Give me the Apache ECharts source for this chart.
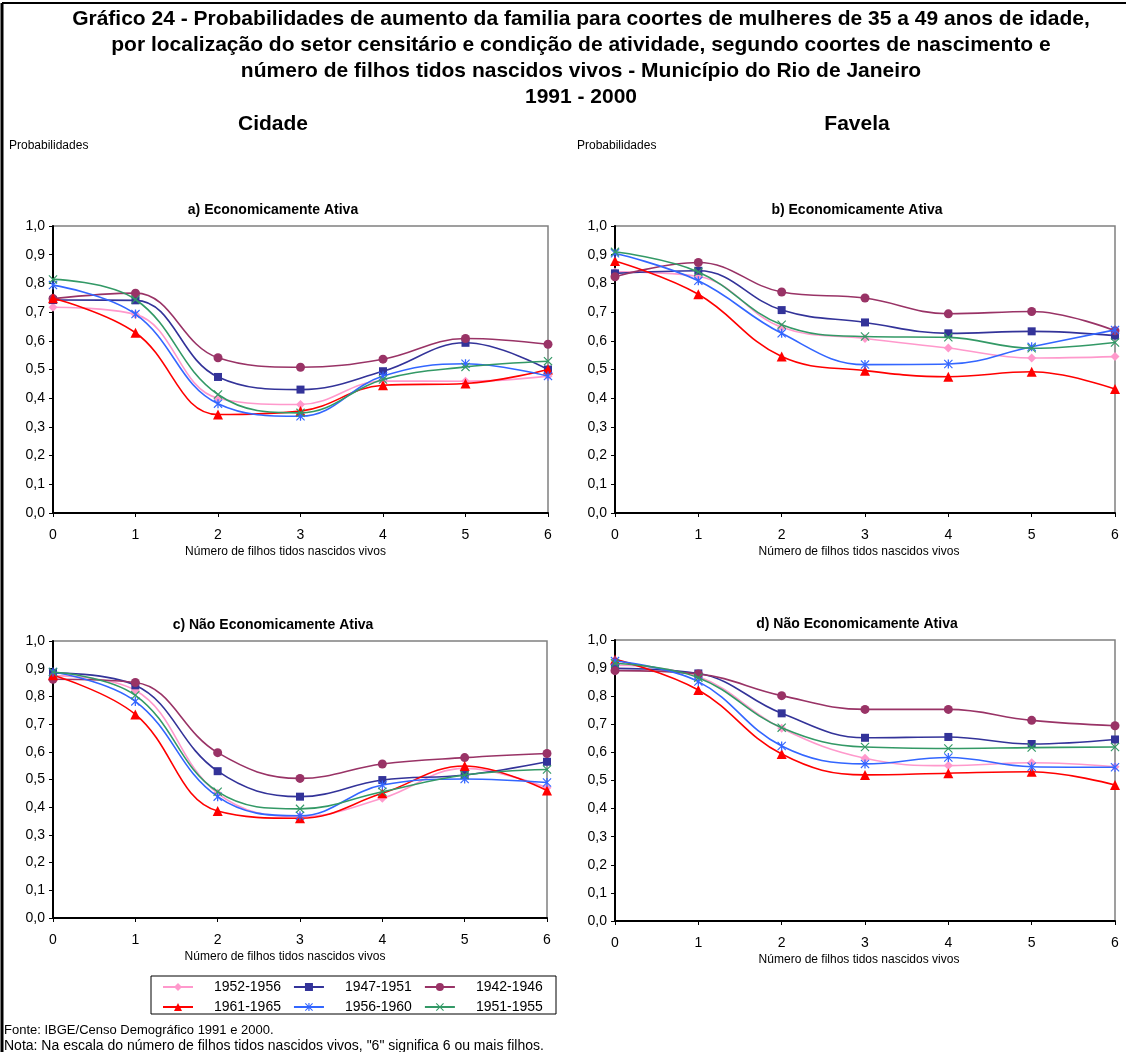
<!DOCTYPE html>
<html>
<head>
<meta charset="utf-8">
<script src="https://cdn.jsdelivr.net/npm/echarts@6/dist/echarts.min.js"></script>
<style>
  html, body { margin: 0; padding: 0; background: #fff; }
  #chart { width: 1126px; height: 1052px; }
</style>
</head>
<body>
<div id="chart"></div>
<script>
// categories (x axis) and cohorts (series)
const xCats = ['0', '1', '2', '3', '4', '5', '6'];
const cohorts = ['1952-1956', '1947-1951', '1942-1946', '1961-1965', '1956-1960', '1951-1955'];

// values per panel, rows in the cohort order above
const cidadeAtiva = [
    [0.717, 0.692, 0.400, 0.378, 0.460, 0.459, 0.477],
    [0.742, 0.741, 0.474, 0.430, 0.494, 0.593, 0.500],
    [0.747, 0.766, 0.541, 0.508, 0.536, 0.608, 0.588],
    [0.748, 0.628, 0.343, 0.355, 0.445, 0.451, 0.500],
    [0.794, 0.693, 0.381, 0.337, 0.477, 0.520, 0.477],
    [0.814, 0.744, 0.413, 0.349, 0.465, 0.509, 0.529]
];
const favelaAtiva = [
    [0.840, 0.824, 0.647, 0.608, 0.575, 0.540, 0.545],
    [0.835, 0.844, 0.707, 0.664, 0.626, 0.633, 0.618],
    [0.823, 0.873, 0.770, 0.749, 0.694, 0.702, 0.635],
    [0.878, 0.762, 0.545, 0.496, 0.475, 0.492, 0.432],
    [0.905, 0.809, 0.626, 0.517, 0.519, 0.579, 0.638],
    [0.910, 0.840, 0.656, 0.615, 0.612, 0.574, 0.594]
];
const cidadeNaoAtiva = [
    [0.875, 0.822, 0.450, 0.366, 0.432, 0.540, 0.470],
    [0.885, 0.840, 0.530, 0.438, 0.498, 0.516, 0.564],
    [0.862, 0.850, 0.597, 0.504, 0.556, 0.579, 0.594],
    [0.876, 0.735, 0.386, 0.360, 0.450, 0.549, 0.460],
    [0.888, 0.782, 0.438, 0.369, 0.480, 0.502, 0.489],
    [0.888, 0.804, 0.456, 0.394, 0.456, 0.516, 0.536]
];
const favelaNaoAtiva = [
    [0.910, 0.870, 0.686, 0.579, 0.553, 0.563, 0.549],
    [0.899, 0.881, 0.739, 0.652, 0.655, 0.630, 0.646],
    [0.891, 0.879, 0.802, 0.753, 0.753, 0.714, 0.695],
    [0.931, 0.822, 0.594, 0.520, 0.526, 0.531, 0.484],
    [0.925, 0.852, 0.623, 0.559, 0.582, 0.549, 0.547],
    [0.917, 0.866, 0.688, 0.619, 0.614, 0.617, 0.619]
];

const FONT = '"Liberation Sans", Arial, sans-serif';
const colors = ['#FF99CC', '#333399', '#993366', '#FF0000', '#3366FF', '#339966'];
// asterisk and x markers as filled thin bars
const starPath = 'path://M4.3,0H5.7V10H4.3Z M0,0.9L0.9,0L10,9.1L9.1,10Z M9.1,0L10,0.9L0.9,10L0,9.1Z';
const crossPath = 'path://M0,0.9L0.9,0L10,9.1L9.1,10Z M9.1,0L10,0.9L0.9,10L0,9.1Z';
const symbols = ['diamond', 'rect', 'circle', 'triangle', starPath, crossPath];
const symbolSizes = [9, 8, 9, 10, 9, 9];

// titleX / nameShift: Excel centres these on the whole chart area, not the plot
const panels = [
    {data: cidadeAtiva, left: 53, top: 226, width: 495, height: 287, title: 'a) Economicamente Ativa', titleX: 268, nameShift: 30},
    {data: favelaAtiva, left: 615, top: 226, width: 500, height: 287, title: 'b) Economicamente Ativa', titleX: 852, nameShift: 12},
    {data: cidadeNaoAtiva, left: 53, top: 641, width: 494, height: 277, title: 'c) Não Economicamente Ativa', titleX: 268, nameShift: 30},
    {data: favelaNaoAtiva, left: 615, top: 640, width: 500, height: 281, title: 'd) Não Economicamente Ativa', titleX: 852, nameShift: 12}
];

const grids = [], xAxes = [], yAxes = [], series = [];
const titles = [
    {
        text: 'Gráfico 24 - Probabilidades de aumento da familia para coortes de mulheres de 35 a 49 anos de idade,\n' +
              'por localização do setor censitário e condição de atividade, segundo coortes de nascimento e\n' +
              'número de filhos tidos nascidos vivos - Município do Rio de Janeiro\n1991 - 2000',
        left: 576, top: 1, textAlign: 'center',
        textStyle: {fontFamily: FONT, fontSize: 21, fontWeight: 'bold', lineHeight: 26, color: '#000'}
    },
    {text: 'Cidade', left: 268, top: 109, textAlign: 'center',
        textStyle: {fontFamily: FONT, fontSize: 21, fontWeight: 'bold', color: '#000'}},
    {text: 'Favela', left: 852, top: 109, textAlign: 'center',
        textStyle: {fontFamily: FONT, fontSize: 21, fontWeight: 'bold', color: '#000'}},
    {text: 'Probabilidades', left: 4, top: 135,
        textStyle: {fontFamily: FONT, fontSize: 12, fontWeight: 'normal', color: '#000'}},
    {text: 'Probabilidades', left: 572, top: 135,
        textStyle: {fontFamily: FONT, fontSize: 12, fontWeight: 'normal', color: '#000'}}
];

panels.forEach(function (p, i) {
    grids.push({left: p.left, top: p.top, width: p.width, height: p.height,
        show: true, borderColor: '#808080', borderWidth: 1.5, backgroundColor: 'transparent'});
    titles.push({text: p.title, left: p.titleX, top: p.top - 28, textAlign: 'center',
        textStyle: {fontFamily: FONT, fontSize: 14, fontWeight: 'bold', color: '#000'}});
    xAxes.push({
        type: 'category', gridIndex: i, data: xCats, boundaryGap: false,
        name: 'Número de filhos tidos nascidos vivos', nameLocation: 'middle', nameGap: 33,
        nameTextStyle: {fontFamily: FONT, fontSize: 12, color: '#000', padding: [0, p.nameShift, 0, 0]},
        axisLine: {lineStyle: {color: '#000', width: 2}},
        axisTick: {show: true, length: 4, lineStyle: {color: '#000'}},
        axisLabel: {fontFamily: FONT, fontSize: 14, color: '#000', margin: 15},
        splitLine: {show: false}
    });
    yAxes.push({
        type: 'value', gridIndex: i, min: 0, max: 1, interval: 0.1,
        axisLine: {show: true, lineStyle: {color: '#000', width: 2}},
        axisTick: {show: true, length: 4, lineStyle: {color: '#000'}},
        axisLabel: {fontFamily: FONT, fontSize: 14, color: '#000', margin: 8,
            formatter: function (v) { return v.toFixed(1).replace('.', ','); }},
        splitLine: {show: false}
    });
    p.data.forEach(function (vals, k) {
        series.push({
            name: cohorts[k], type: 'line', xAxisIndex: i, yAxisIndex: i,
            data: vals, smooth: 0.4,
            symbol: symbols[k], symbolSize: symbolSizes[k],
            lineStyle: {color: colors[k], width: 1.6},
            itemStyle: {color: colors[k]},
            z: 2 + k
        });
    });
});

const legendText = {fontFamily: FONT, fontSize: 14, color: '#000', padding: [0, 0, 0, 16]};
const myChart = echarts.init(document.getElementById('chart'), null, {renderer: 'canvas'});
myChart.setOption({
    animation: false,
    backgroundColor: '#fff',
    title: titles,
    grid: grids,
    xAxis: xAxes,
    yAxis: yAxes,
    legend: [
        {data: cohorts.slice(0, 3), left: 157, top: 975, itemWidth: 30, itemHeight: 10,
            itemGap: 12, textStyle: legendText},
        {data: cohorts.slice(3), left: 157, top: 995, itemWidth: 30, itemHeight: 10,
            itemGap: 12, textStyle: legendText}
    ],
    graphic: [
        {type: 'line', shape: {x1: 2, y1: 3, x2: 1126, y2: 3}, style: {stroke: '#000', lineWidth: 2}},
        {type: 'line', shape: {x1: 2, y1: 3, x2: 2, y2: 1052}, style: {stroke: '#000', lineWidth: 3}},
        {type: 'rect', shape: {x: 151, y: 976, width: 405, height: 38},
            style: {fill: 'none', stroke: '#000', lineWidth: 1}},
        {type: 'text', left: 4, top: 1024,
            style: {text: 'Fonte: IBGE/Censo Demográfico 1991 e 2000.', font: '13px "Liberation Sans", Arial', fill: '#000'}},
        {type: 'text', left: 4, top: 1039,
            style: {text: 'Nota: Na escala do número de filhos tidos nascidos vivos, "6" significa 6 ou mais filhos.',
                font: '14px "Liberation Sans", Arial', fill: '#000'}}
    ],
    series: series
});
</script>
</body>
</html>
